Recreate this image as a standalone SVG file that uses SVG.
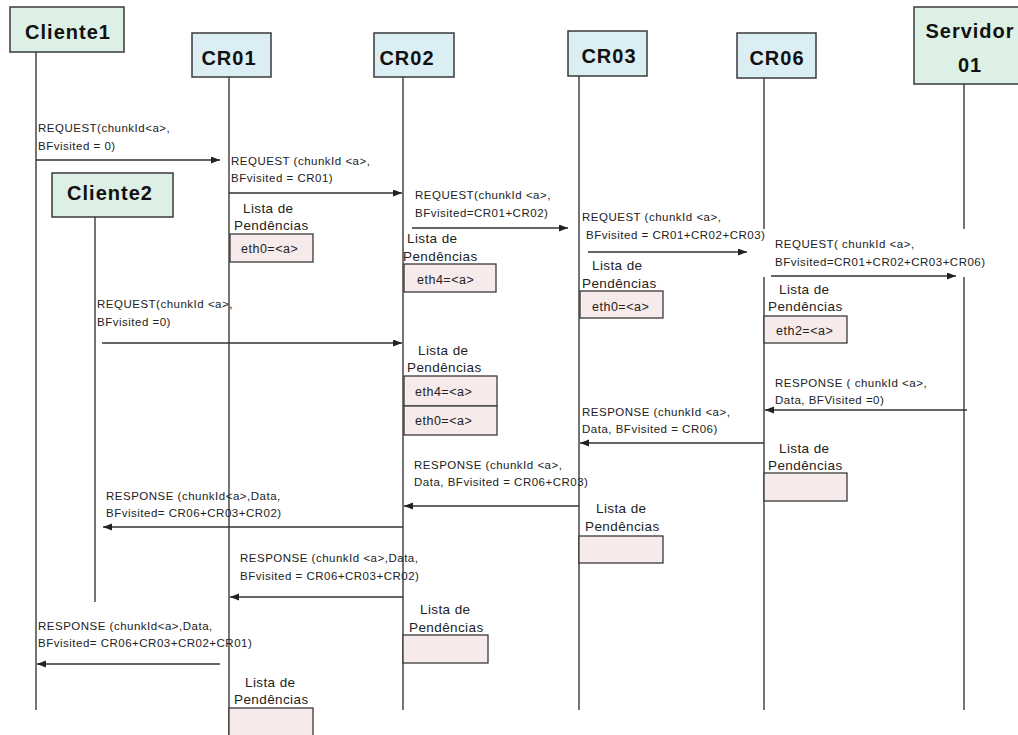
<svg xmlns="http://www.w3.org/2000/svg" width="1018" height="735" viewBox="0 0 1018 735">
<defs>
<marker id="ah" markerUnits="userSpaceOnUse" markerWidth="10" markerHeight="8" refX="9" refY="3.5" orient="auto">
<path d="M0,0 L9,3.5 L0,7 z" fill="#222"/>
</marker>
<style>
.hdr-g{fill:#dcf0e5;stroke:#3a3a3a;stroke-width:1.5}
.hdr-b{fill:#dbeef4;stroke:#3a3a3a;stroke-width:1.5}
.ht{font-family:"Liberation Sans",Arial,sans-serif;font-weight:bold;font-size:20px;letter-spacing:1px;fill:#111;text-anchor:middle}
.life{stroke:#3a3a3a;stroke-width:1.4;fill:none}
.msg{stroke:#333;stroke-width:1.3;fill:none;marker-end:url(#ah)}
.lbl{font-family:"Liberation Sans",Arial,sans-serif;font-size:11.5px;letter-spacing:0.5px;fill:#222}
.lt{font-family:"Liberation Sans",Arial,sans-serif;font-size:13.5px;letter-spacing:0.4px;fill:#222}
.pb{fill:#f6eaea;stroke:#3a3a3a;stroke-width:1.3}
.pt{font-family:"Liberation Sans",Arial,sans-serif;font-size:12.5px;letter-spacing:0.5px;fill:#222}
</style>
</defs>
<rect width="1018" height="735" fill="#fff"/>

<g id="lifelines">
<line class="life" x1="36" y1="52" x2="36" y2="710"/>
<line class="life" x1="229" y1="77" x2="229" y2="735"/>
<line class="life" x1="95" y1="217" x2="95" y2="602"/>
<line class="life" x1="403" y1="77" x2="403" y2="710"/>
<line class="life" x1="579" y1="76" x2="579" y2="710"/>
<line class="life" x1="764" y1="78" x2="764" y2="229"/>
<line class="life" x1="764" y1="277" x2="764" y2="710"/>
<line class="life" x1="964" y1="84" x2="964" y2="229"/>
<line class="life" x1="964" y1="277" x2="964" y2="710"/>
</g>

<g id="Cliente1">
<rect class="hdr-g" x="10" y="7" width="114" height="45"/>
<text class="ht" x="68" y="39">Cliente1</text>
</g>
<g id="CR01">
<rect class="hdr-b" x="192" y="33" width="79" height="44"/>
<text class="ht" x="229" y="65">CR01</text>
</g>
<g id="Cliente2">
<rect class="hdr-g" x="52" y="173" width="121" height="44"/>
<text class="ht" x="110" y="200">Cliente2</text>
</g>
<g id="CR02">
<rect class="hdr-b" x="374" y="33" width="80" height="44"/>
<text class="ht" x="407" y="65">CR02</text>
</g>
<g id="CR03">
<rect class="hdr-b" x="568" y="31" width="79" height="45"/>
<text class="ht" x="609" y="63">CR03</text>
</g>
<g id="CR06">
<rect class="hdr-b" x="737" y="33" width="79" height="45"/>
<text class="ht" x="777" y="65">CR06</text>
</g>
<g id="Servidor01">
<rect class="hdr-g" x="914" y="7" width="110" height="77"/>
<text class="ht" x="970" y="38">Servidor</text>
<text class="ht" x="970" y="72">01</text>
</g>

<g id="connectors">
<line class="msg" x1="36" y1="160" x2="220" y2="160"/>
<line class="msg" x1="229" y1="193" x2="402" y2="193"/>
<line class="msg" x1="412" y1="228" x2="568" y2="228"/>
<line class="msg" x1="588" y1="252" x2="747" y2="252"/>
<line class="msg" x1="771" y1="276" x2="956" y2="276"/>
<line class="msg" x1="102" y1="343" x2="402" y2="343"/>
<line class="msg" x1="967" y1="410" x2="765" y2="410"/>
<line class="msg" x1="764" y1="443" x2="580" y2="443"/>
<line class="msg" x1="579" y1="506" x2="404" y2="506"/>
<line class="msg" x1="403" y1="527" x2="103" y2="527"/>
<line class="msg" x1="403" y1="597" x2="230" y2="597"/>
<line class="msg" x1="220" y1="664" x2="37" y2="664"/>
</g>

<g id="labels">
<text class="lbl" x="38" y="132">REQUEST(chunkId&lt;a&gt;,</text>
<text class="lbl" x="38" y="150">BFvisited = 0)</text>
<text class="lbl" x="231" y="165">REQUEST (chunkId &lt;a&gt;,</text>
<text class="lbl" x="231" y="182">BFvisited = CR01)</text>
<text class="lbl" x="415" y="199">REQUEST(chunkId &lt;a&gt;,</text>
<text class="lbl" x="415" y="217">BFvisited=CR01+CR02)</text>
<text class="lbl" x="582" y="221">REQUEST (chunkId &lt;a&gt;,</text>
<text class="lbl" x="586" y="239">BFvisited = CR01+CR02+CR03)</text>
<text class="lbl" x="775" y="248">REQUEST( chunkId &lt;a&gt;,</text>
<text class="lbl" x="775" y="266">BFvisited=CR01+CR02+CR03+CR06)</text>
<text class="lbl" x="97" y="308">REQUEST(chunkId &lt;a&gt;,</text>
<text class="lbl" x="97" y="326">BFvisited =0)</text>
<text class="lbl" x="775" y="387">RESPONSE ( chunkId &lt;a&gt;,</text>
<text class="lbl" x="775" y="404">Data, BFVisited =0)</text>
<text class="lbl" x="582" y="416">RESPONSE (chunkId &lt;a&gt;,</text>
<text class="lbl" x="582" y="433">Data, BFvisited = CR06)</text>
<text class="lbl" x="414" y="469">RESPONSE (chunkId &lt;a&gt;,</text>
<text class="lbl" x="414" y="486">Data, BFvisited = CR06+CR03)</text>
<text class="lbl" x="106" y="500">RESPONSE (chunkId&lt;a&gt;,Data,</text>
<text class="lbl" x="106" y="517">BFvisited= CR06+CR03+CR02)</text>
<text class="lbl" x="240" y="562">RESPONSE (chunkId &lt;a&gt;,Data,</text>
<text class="lbl" x="240" y="580">BFvisited = CR06+CR03+CR02)</text>
<text class="lbl" x="38" y="630">RESPONSE (chunkId&lt;a&gt;,Data,</text>
<text class="lbl" x="38" y="647">BFvisited= CR06+CR03+CR02+CR01)</text>
</g>

<g id="pend-CR01-a">
<text class="lt" x="243" y="213">Lista de</text>
<text class="lt" x="234" y="230">Pendências</text>
<rect class="pb" x="230" y="234" width="83" height="28"/>
<text class="pt" x="241" y="253">eth0=&lt;a&gt;</text>
</g>
<g id="pend-CR02-a">
<text class="lt" x="407" y="243">Lista de</text>
<text class="lt" x="403" y="261">Pendências</text>
<rect class="pb" x="404" y="264" width="92" height="28"/>
<text class="pt" x="417" y="284">eth4=&lt;a&gt;</text>
</g>
<g id="pend-CR03-a">
<text class="lt" x="592" y="270">Lista de</text>
<text class="lt" x="582" y="288">Pendências</text>
<rect class="pb" x="580" y="291" width="83" height="27"/>
<text class="pt" x="592" y="311">eth0=&lt;a&gt;</text>
</g>
<g id="pend-CR06-a">
<text class="lt" x="779" y="294">Lista de</text>
<text class="lt" x="768" y="311">Pendências</text>
<rect class="pb" x="764" y="316" width="83" height="27"/>
<text class="pt" x="776" y="335">eth2=&lt;a&gt;</text>
</g>
<g id="pend-CR02-b">
<text class="lt" x="418" y="355">Lista de</text>
<text class="lt" x="407" y="372">Pendências</text>
<rect class="pb" x="404" y="376" width="93" height="30"/>
<rect class="pb" x="404" y="406" width="93" height="29"/>
<text class="pt" x="415" y="396">eth4=&lt;a&gt;</text>
<text class="pt" x="415" y="425">eth0=&lt;a&gt;</text>
</g>
<g id="pend-CR06-b">
<text class="lt" x="779" y="453">Lista de</text>
<text class="lt" x="768" y="470">Pendências</text>
<rect class="pb" x="764" y="473" width="83" height="28"/>
</g>
<g id="pend-CR03-b">
<text class="lt" x="596" y="513">Lista de</text>
<text class="lt" x="585" y="531">Pendências</text>
<rect class="pb" x="579" y="536" width="84" height="27"/>
</g>
<g id="pend-CR02-c">
<text class="lt" x="420" y="614">Lista de</text>
<text class="lt" x="409" y="632">Pendências</text>
<rect class="pb" x="403" y="635" width="85" height="28"/>
</g>
<g id="pend-CR01-b">
<text class="lt" x="245" y="687">Lista de</text>
<text class="lt" x="234" y="704">Pendências</text>
<rect class="pb" x="229" y="708" width="84" height="30"/>
</g>
</svg>
